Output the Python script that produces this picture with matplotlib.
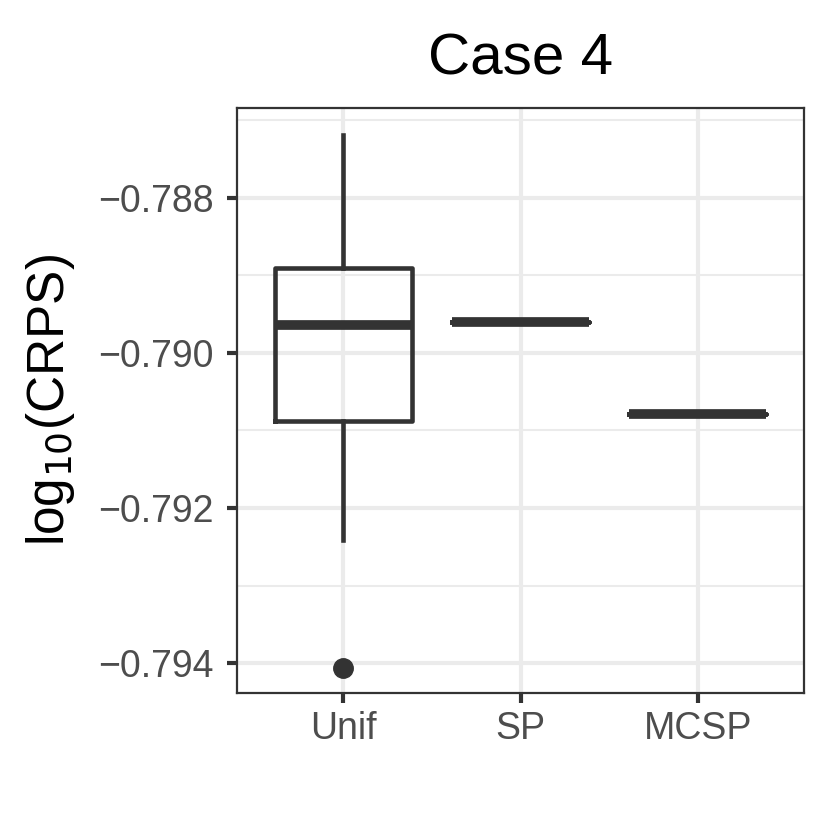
import matplotlib
matplotlib.use("Agg")
import matplotlib.pyplot as plt
from matplotlib.ticker import FixedLocator

plt.rcParams['font.family'] = ['Liberation Sans', 'DejaVu Sans']

# summary stats
methods = ['Unif', 'SP', 'MCSP']
whislo = [-0.792413, -0.789600, -0.790787]
q1 = [-0.790877, -0.789600, -0.790787]
med = [-0.789639, -0.789600, -0.790787]
q3 = [-0.788903, -0.789600, -0.790787]
whishi = [-0.787187, -0.789600, -0.790787]
outliers = [[-0.794065], [], []]

major_ticks = [-0.794, -0.792, -0.790, -0.788]
minor_ticks = [-0.793, -0.791, -0.789, -0.787]

dark = '#333333'
grid = '#EBEBEB'

stats = []
for i, m in enumerate(methods):
    stats.append(dict(label=m, whislo=whislo[i], q1=q1[i], med=med[i],
                      q3=q3[i], whishi=whishi[i], fliers=outliers[i]))

fig = plt.figure(figsize=(8.3, 8.4), dpi=100)
ax = fig.add_axes([237 / 830, 1 - 693 / 840, 567 / 830, 585 / 840])

positions = list(range(1, len(methods) + 1))
ax.bxp(stats, positions=positions, widths=0.77, showcaps=False,
       boxprops=dict(color=dark, linewidth=3.3),
       whiskerprops=dict(color=dark, linewidth=3.3),
       medianprops=dict(color=dark, linewidth=7.0, solid_capstyle='butt'),
       flierprops=dict(marker='o', markerfacecolor=dark, markeredgecolor=dark,
                       markersize=14),
       zorder=3)

ax.set_xlim(0.4, 3.6)
ax.set_ylim(-0.794387, -0.786839)
ax.set_xticks(positions)
ax.set_xticklabels(methods)
ax.yaxis.set_major_locator(FixedLocator(major_ticks))
ax.yaxis.set_minor_locator(FixedLocator(minor_ticks))
ax.set_yticklabels(['\u2212%.3f' % abs(v) for v in major_ticks])

ax.grid(True, which='major', color=grid, linewidth=3.0, zorder=0)
ax.grid(True, which='minor', axis='y', color=grid, linewidth=1.5, zorder=0)
ax.set_axisbelow(True)

for s in ax.spines.values():
    s.set_color(dark)
    s.set_linewidth(1.6)

ax.tick_params(axis='both', which='major', length=7, width=3.0, color=dark,
               labelsize=27, labelcolor='#4D4D4D', pad=6)
ax.tick_params(axis='y', which='major', pad=10)
ax.tick_params(axis='y', which='minor', length=0)

ax.set_ylabel('log$_{10}$(CRPS)', fontsize=37)
ax.yaxis.set_label_coords((50 - 237) / 567, 0.5)
ax.yaxis.label.set_va('center')
ax.set_title('Case 4', fontsize=42, pad=24)

fig.savefig('out.png', dpi=100)
